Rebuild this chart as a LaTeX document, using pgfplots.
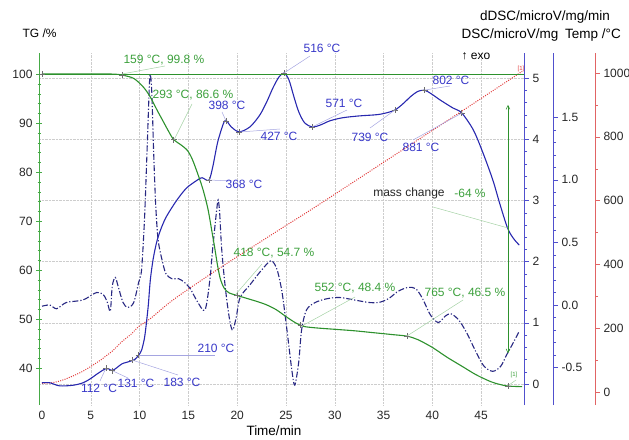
\documentclass[border=0pt]{standalone}
\usepackage{fontspec}
\setmainfont{Liberation Sans}
\usepackage{pgfplots}
\pgfplotsset{compat=1.18}
\usetikzlibrary{arrows.meta}
\definecolor{tgline}{RGB}{45,145,45}
\definecolor{tgtext}{RGB}{60,160,60}
\definecolor{tgaxis}{RGB}{70,170,70}
\definecolor{tglead}{RGB}{165,210,165}
\definecolor{dscline}{RGB}{40,40,175}
\definecolor{ddscline}{RGB}{40,40,130}
\definecolor{dsctext}{RGB}{55,55,200}
\definecolor{dscaxis}{RGB}{80,80,205}
\definecolor{dsclead}{RGB}{165,165,225}
\definecolor{templine}{RGB}{225,60,60}
\definecolor{tempaxis}{RGB}{225,100,100}
\definecolor{gridc}{RGB}{205,205,205}
\definecolor{markc}{RGB}{110,110,110}
\pgfplotsset{
  base/.style={scale only axis, width=485pt, height=352pt,
    at={(39pt,34pt)}, anchor=south west, xmin=-0.307, xmax=49.39,
    /pgf/number format/assume math mode=true,
    tick label style={font=\fontsize{12}{14}\selectfont, text=black!85}},
  yscl/.style={scale only axis, width=20pt, height=352pt, anchor=south east,
    xmin=0, xmax=1, axis x line=none, axis y line*=right,
    /pgf/number format/assume math mode=true,
    /pgf/number format/1000 sep={},
    tick label style={font=\fontsize{12}{14}\selectfont, text=black!85},
    tick align=outside, major tick length=5pt, minor tick length=3pt},
}
\newcommand\lbl{\fontsize{12}{14}\selectfont}
\newcommand\ttl{\fontsize{13.5}{16}\selectfont}
\begin{document}
\begin{tikzpicture}
\useasboundingbox (0,0) rectangle (629pt,439pt);
% ---------------- grid
\begin{axis}[base, ymin=-0.343, ymax=5.408, xtick={5,10,...,45}, ytick={0,1,...,5},
  grid=major, grid style={gridc, densely dotted, line width=0.5pt},
  axis line style={draw=none}, tick style={draw=none}, xticklabels={}, yticklabels={}]
\addplot[draw=none] coordinates {(0,0)};
\end{axis}
% ---------------- Temp (data)
\begin{axis}[base, hide axis, ymin=-40.8, ymax=1062.7]
\addplot[templine, line width=1pt, dash pattern=on 1pt off 1.3pt, smooth] coordinates {
(0,27)(1,29)(2,36)(3,48)(4,62)(4.9,78)(6,100)(6.6,114)(7.2,128)(8.2,158)(9.2,183)(9.9,205)(11.1,230)(13.4,288)(17.1,366)(20,424)(24.8,518)(27.9,578)(36.2,744)(43,880)(49.2,1005)};
\end{axis}
% ---------------- dDSC (data)
\begin{axis}[base, hide axis, ymin=-0.799, ymax=2.013]
\addplot[ddscline, line width=1.1pt, dash pattern=on 6pt off 2pt on 1.2pt off 2pt, smooth, tension=0.5] coordinates {
(0,-0.01)(0.8,0.0)(1.5,-0.03)(2.5,0.02)(4.2,0.04)(5.6,0.10)(6.3,0.08)(6.7,0.02)(7.0,-0.05)(7.2,0.15)(7.5,0.22)(7.8,0.15)(8.3,0.02)(8.8,-0.02)(9.4,0.02)(9.9,0.18)(10.2,0.28)(10.5,0.68)(10.75,1.2)(11.0,1.75)(11.1,1.84)(11.25,1.7)(11.45,1.2)(11.65,0.8)(11.9,0.52)(12.3,0.36)(12.7,0.25)(13.3,0.21)(14.0,0.21)(14.6,0.18)(15.2,0.13)(15.9,0.03)(16.7,-0.04)(17.2,0.2)(17.5,0.46)(17.9,0.76)(18.05,0.84)(18.2,0.74)(18.4,0.46)(18.7,0.2)(19.0,0.0)(19.3,-0.15)(19.55,-0.2)(19.9,-0.1)(20.3,0.06)(21.3,0.16)(22.3,0.26)(23.2,0.34)(23.6,0.35)(24.1,0.28)(24.6,0.1)(25.1,-0.2)(25.6,-0.52)(25.9,-0.64)(26.3,-0.46)(26.6,-0.2)(27.1,-0.04)(28.0,0.02)(29.2,0.05)(30.5,0.06)(32,0.04)(33.5,0.02)(34.5,0.02)(35.5,0.05)(36.5,0.11)(37.5,0.14)(38.3,0.13)(39.0,0.05)(39.8,-0.08)(40.6,-0.14)(41.3,-0.09)(41.9,-0.07)(42.7,-0.12)(43.5,-0.22)(44.5,-0.38)(45.3,-0.49)(46.2,-0.53)(47.0,-0.49)(47.6,-0.40)(48.3,-0.30)(48.9,-0.21)};
\end{axis}
% ---------------- DSC (data + axis)
\begin{axis}[base, ymin=-0.343, ymax=5.408, axis x line=none, axis y line*=right,
  ytick={0,1,...,5}, minor y tick num=4, tick align=outside,
  major tick length=5pt, minor tick length=3pt,
  y axis line style={dscaxis, line width=0.9pt}, ytick style={dscaxis}, minor y tick style={dscaxis}]
\addplot[dscline, line width=1.1pt, smooth, tension=0.5] coordinates {
(0,0.02)(0.8,0.02)(1.8,-0.03)(3.2,-0.02)(4.2,0.02)(4.9,0.08)(5.7,0.17)(6.4,0.24)(6.8,0.25)(7.2,0.22)(7.7,0.27)(8.2,0.33)(9.0,0.37)(9.5,0.40)(9.9,0.47)(10.2,0.55)(10.5,0.75)(10.7,1.0)(10.9,1.3)(11.1,1.7)(11.4,2.05)(11.8,2.35)(12.3,2.58)(12.8,2.75)(13.8,3.0)(14.8,3.2)(15.9,3.33)(16.4,3.37)(17.1,3.33)(17.5,3.55)(18.0,3.95)(18.6,4.26)(18.9,4.30)(19.4,4.2)(20.2,4.12)(21.3,4.2)(22.3,4.39)(23.0,4.6)(23.7,4.85)(24.3,5.02)(24.8,5.08)(25.3,4.97)(25.8,4.7)(26.3,4.45)(26.9,4.27)(27.7,4.2)(28.5,4.23)(29.5,4.3)(30.8,4.35)(32.5,4.38)(34.3,4.40)(35.3,4.43)(36.2,4.48)(37.0,4.58)(37.8,4.7)(38.5,4.78)(39.2,4.80)(39.9,4.74)(40.8,4.64)(42.1,4.51)(43.0,4.43)(44.2,4.15)(45.2,3.77)(46.2,3.33)(46.9,2.95)(47.7,2.55)(48.3,2.38)(48.9,2.27)};
\addplot[only marks, mark=+, mark size=3pt, markc, line width=0.5pt] coordinates {
(6.6,0.26)(7.2,0.22)(9.2,0.39)(9.9,0.47)(17.1,3.33)(18.9,4.30)(20.2,4.12)(24.8,5.08)(27.7,4.2)(36.2,4.48)(39.2,4.80)(43.0,4.43)};
\end{axis}
% ---------------- TG (data + axis)
\begin{axis}[base, ymin=32.45, ymax=104.29, axis y line*=left, axis x line*=bottom,
  x axis line style={draw=none}, xtick={0,5,...,45}, xtick style={draw=none},
  ytick={40,50,...,100}, minor y tick num=4, tick align=center,
  major tick length=6pt, minor tick length=3pt,
  y axis line style={tgaxis, line width=0.9pt}, ytick style={tgaxis}, minor y tick style={tgaxis}]
\draw[tgline, line width=0.6pt] (axis cs:0,100) -- (axis cs:49.39,100);
\draw[tgline, line width=0.5pt, {Straight Barb[length=4pt,width=4pt]}-{Straight Barb[length=4pt,width=4pt]}] (axis cs:47.75,93.7) -- (axis cs:47.75,43.0);
\addplot[tgline, line width=1.1pt, smooth, tension=0.5] coordinates {
(0,100)(2,100)(4,100)(6,100)(7,100)(7.6,99.95)(8.2,99.8)(9.4,99.1)(10.4,97.3)(11.1,95.3)(11.8,92.6)(12.4,90.4)(13.0,88.2)(13.5,86.6)(14.2,85.6)(14.9,84.4)(15.4,82.6)(16.0,79.4)(16.5,76.4)(17.0,72.5)(17.4,68)(17.7,64.5)(18.0,60.8)(18.3,58.0)(18.7,56.2)(19.2,55.3)(20.0,54.8)(21,54.2)(22,53.6)(23,52.9)(24,51.9)(25,50.5)(26,49.2)(26.8,48.5)(28,48.2)(30,47.9)(32,47.6)(34,47.2)(36,46.8)(37.4,46.5)(38.5,45.8)(40,44.2)(41.5,42.2)(43,40.4)(44.5,38.6)(46,37.2)(47,36.6)(47.8,36.3)(49.2,36.2)};
\addplot[only marks, mark=+, mark size=3pt, markc, line width=0.5pt] coordinates {
(0,100)(8.2,99.8)(13.5,86.6)(20.0,54.8)(26.5,48.7)(37.4,46.5)(47.8,36.3)};
\end{axis}
% ---------------- dDSC axis
\begin{axis}[yscl, at={(553pt,34pt)}, ymin=-0.799, ymax=2.013,
  ytick={-0.5,0,0.5,1,1.5}, minor y tick num=4,
  yticklabel style={/pgf/number format/.cd, fixed, fixed zerofill, precision=1},
  y axis line style={dscaxis, line width=0.9pt}, ytick style={dscaxis}, minor y tick style={dscaxis}]
\addplot[draw=none] coordinates {(0,0)};
\end{axis}
% ---------------- Temp axis
\begin{axis}[yscl, at={(595pt,34pt)}, ymin=-40.8, ymax=1062.7,
  ytick={0,200,...,1000}, minor y tick num=1,
  y axis line style={tempaxis, line width=0.9pt}, ytick style={tempaxis}, minor y tick style={tempaxis}]
\addplot[draw=none] coordinates {(0,0)};
\end{axis}
% ---------------- annotations (pixel frame, origin top-left)
\begin{scope}[x=1pt, y=-1pt, shift={(0pt,439pt)}]
% titles
\node[font=\lbl, anchor=west] at (19,33) {TG /\%};
\node[font=\ttl] at (545,17) {dDSC/microV/mg/min};
\node[font=\ttl] at (510,35) {DSC/microV/mg};
\node[font=\ttl] at (593,35) {Temp /°C};
\node[font=\lbl] at (476,56) {↑ exo};
\node[font=\ttl] at (274,431) {Time/min};
% green leaders
\begin{scope}[tglead, line width=0.5pt]
\draw (122,74) -- (165,66);
\draw (174,140) -- (192,104);
\draw (236,294) -- (262,264);
\draw (302,326) -- (355,297);
\draw (407,336) -- (463,300);
\draw (433,207) -- (508,228);
\draw (509,385) -- (516,380);
\end{scope}
\begin{scope}[tgtext, font=\lbl]
\node at (164,60) {159 °C, 99.8 \%};
\node at (193,95) {293 °C, 86.6 \%};
\node at (274,253) {418 °C, 54.7 \%};
\node at (355,288) {552 °C, 48.4 \%};
\node at (465,293) {765 °C, 46.5 \%};
\node at (470,193) {-64 \%};
\node[font=\fontsize{6}{7}\selectfont] at (514,375) {[1]};
\end{scope}
\node[font=\lbl, text=black!85] at (409,193) {mass change};
\node[font=\fontsize{6}{7}\selectfont, text=templine] at (521,69) {[1]};
% blue leaders
\begin{scope}[dsclead, line width=0.5pt]
\draw (106,368) -- (100,381);
\draw (113,371) -- (128,378);
\draw (132,360) -- (178,375);
\draw (139,355) -- (215,355);
\draw (209,180) -- (232,181);
\draw (226,121) -- (222,112);
\draw (240,132) -- (280,129);
\draw (284,73) -- (310,56);
\draw (312,127) -- (347,110);
\draw (395,110) -- (370,128);
\draw (425,90) -- (450,86);
\draw (462,113) -- (413,140);
\end{scope}
\begin{scope}[dsctext, font=\lbl]
\node at (99,388) {112 °C};
\node at (136,383) {131 °C};
\node at (182,382) {183 °C};
\node at (216,348) {210 °C};
\node at (244,184) {368 °C};
\node at (227,105) {398 °C};
\node at (279,136) {427 °C};
\node at (322,48) {516 °C};
\node at (344,103) {571 °C};
\node at (370,137) {739 °C};
\node at (451,80) {802 °C};
\node at (421,147) {881 °C};
\end{scope}
\end{scope}
\end{tikzpicture}
\end{document}
